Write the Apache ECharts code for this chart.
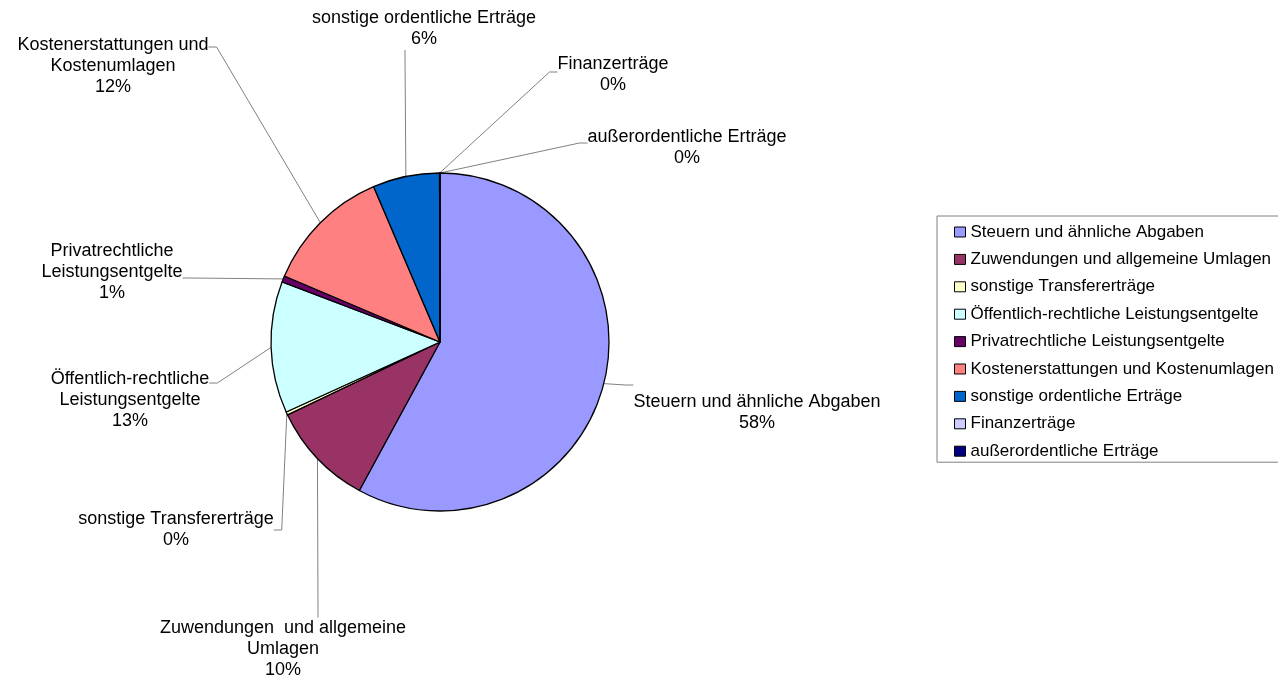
<!DOCTYPE html>
<html>
<head>
<meta charset="utf-8">
<script src="https://cdn.jsdelivr.net/npm/echarts@6/dist/echarts.min.js"></script>
<style>
html, body { margin: 0; padding: 0; background: #fff; }
#main { width: 1278px; height: 680px; }
</style>
</head>
<body>
<div id="main"></div>
<script>
var categories = ['Steuern und ähnliche Abgaben', 'Zuwendungen und allgemeine Umlagen', 'sonstige Transfererträge',
  'Öffentlich-rechtliche Leistungsentgelte', 'Privatrechtliche Leistungsentgelte', 'Kostenerstattungen und Kostenumlagen',
  'sonstige ordentliche Erträge', 'Finanzerträge', 'außerordentliche Erträge'];
// label text as wrapped in the chart
var labelNames = ['Steuern und ähnliche Abgaben', 'Zuwendungen  und allgemeine\nUmlagen', 'sonstige Transfererträge',
  'Öffentlich-rechtliche\nLeistungsentgelte', 'Privatrechtliche\nLeistungsentgelte', 'Kostenerstattungen und\nKostenumlagen',
  'sonstige ordentliche Erträge', 'Finanzerträge', 'außerordentliche Erträge'];
var values = [58.0, 10.0, 0.3, 12.6, 0.6, 12.2, 6.4, 0.02, 0.02];
var colors = ['#9999FF', '#993366', '#FFFFCC', '#CCFFFF', '#660066', '#FF8080', '#0066CC', '#CCCCFF', '#000080'];

// label box centres; side padding and empty top/bottom rows move where the leader line meets the box
var labelX = [757, 318, 176, 130, 112, 113, 405, 613, 687];
var labelY = [385, 649, 530, 383, 278, 47, 29, 72, 143];
var labelPadLeft = [0, 0, 0, 0, 0, 0, 38, 0, 0];
var labelPadRight = [0, 70, 0, 0, 0, 0, 0, 0, 0];
var gapTop = [56, 0, 0, 34, 0, 38, 0, 6, 10];
var gapBottom = [0, 0, 0, 0, 12, 0, 0, 0, 0];

var chart = echarts.init(document.getElementById('main'));

var data = [];
for (var i = 0; i < categories.length; i++) {
  data.push({
    name: categories[i],
    value: values[i],
    itemStyle: { color: colors[i] },
    label: { padding: [0, labelPadRight[i], 0, labelPadLeft[i]] }
  });
}

var option = {
  animation: false,
  textStyle: { fontFamily: 'Liberation Sans, Arial, sans-serif' },
  legend: {
    orient: 'vertical',
    left: 937,
    top: 216,
    padding: [6, 30, 1, 17],
    itemGap: 7.4,
    itemWidth: 11,
    itemHeight: 10,
    icon: 'rect',
    borderColor: '#808080',
    borderWidth: 1,
    itemStyle: { borderColor: '#000', borderWidth: 1 },
    textStyle: { fontSize: 17, lineHeight: 20, color: '#000', fontFamily: 'Liberation Sans, Arial, sans-serif' },
    data: categories
  },
  series: [{
    type: 'pie',
    center: [440, 342],
    radius: 169,
    startAngle: 90,
    clockwise: true,
    avoidLabelOverlap: false,
    minShowLabelAngle: 0,
    itemStyle: { borderColor: '#000', borderWidth: 1.3 },
    emphasis: { disabled: true },
    label: {
      show: true,
      color: '#000',
      fontSize: 18,
      lineHeight: 21,
      align: 'center',
      fontFamily: 'Liberation Sans, Arial, sans-serif',
      formatter: function (p) {
        var k = p.dataIndex;
        var txt = labelNames[k] + '\n' + Math.round(p.percent) + '%';
        if (gapTop[k]) txt = '{t' + k + '|}\n' + txt;
        if (gapBottom[k]) txt = txt + '\n{b' + k + '|}';
        return txt;
      },
      rich: (function () {
        var r = {};
        for (var k = 0; k < categories.length; k++) {
          if (gapTop[k]) r['t' + k] = { lineHeight: gapTop[k], fontSize: 1 };
          if (gapBottom[k]) r['b' + k] = { lineHeight: gapBottom[k], fontSize: 1 };
        }
        return r;
      })()
    },
    labelLine: {
      show: true,
      length: 20,
      length2: 8,
      smooth: false,
      lineStyle: { color: '#808080', width: 1 }
    },
    labelLayout: function (p) {
      return {
        x: labelX[p.dataIndex],
        y: labelY[p.dataIndex],
        align: 'center',
        verticalAlign: 'middle'
      };
    },
    data: data
  }]
};

chart.setOption(option);
</script>
</body>
</html>
